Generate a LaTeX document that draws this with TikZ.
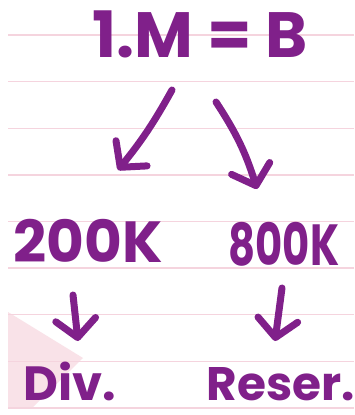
\documentclass[tikz,border=0pt]{standalone}
\usepackage{fontspec}
\setmainfont{Poppins}
\usepackage{graphicx}
\usetikzlibrary{arrows.meta}
\definecolor{hand}{RGB}{128,32,138}
\definecolor{rule}{RGB}{245,212,222}
\definecolor{tri}{RGB}{249,226,232}
\tikzset{
  ruleline/.style={rule, line width=1.4pt},
  hw/.style={text=hand, inner sep=0pt, anchor=base, text depth=0pt, font=\bfseries},
  arr/.style={hand, line width=7pt, line cap=round, line join=round,
    -{Straight Barb[length=18pt, width=40pt, round]}},
}
\begin{document}
\begin{tikzpicture}[x=1pt,y=-1pt]
\useasboundingbox (0,0) rectangle (354,415);
\fill[white] (0,0) rectangle (354,415);
\fill[tri] (8,312) -- (83,358) -- (32,408) -- (8,408) -- cycle;
\foreach \k in {0,...,8} {
  \draw[ruleline] (8,35+46.6*\k) -- (354,35+46.6*\k);
}
\node[hw, font=\bfseries\fontsize{64}{64}\selectfont] (top) at (200,57) {1.M = B};
\node[hw, font=\bfseries\fontsize{58}{58}\selectfont] (l200) at (88,262) {200K};
\node[hw, font=\bfseries\fontsize{58}{58}\selectfont] (r800) at (284,265) {\scalebox{0.72}[1]{800K}};
\node[hw, font=\bfseries\fontsize{48}{48}\selectfont] (div) at (70,400) {Div.};
\node[hw, font=\bfseries\fontsize{47}{47}\selectfont] (res) at (281,400) {Reser.};
\coordinate (a1s) at (172,90);
\coordinate (a1e) at (118,170);
\coordinate (a2s) at (216,102);
\coordinate (a2e) at (257,189);
\coordinate (a3s) at (73,295);
\coordinate (a3e) at (78,341);
\coordinate (a4s) at (282,288);
\coordinate (a4e) at (275,341);
\draw[arr] (a1s) to[bend left=5] (a1e);
\draw[arr] (a2s) to[bend left=8] (a2e);
\draw[arr] (a3s) -- (a3e);
\draw[arr] (a4s) -- (a4e);
\end{tikzpicture}
\end{document}
